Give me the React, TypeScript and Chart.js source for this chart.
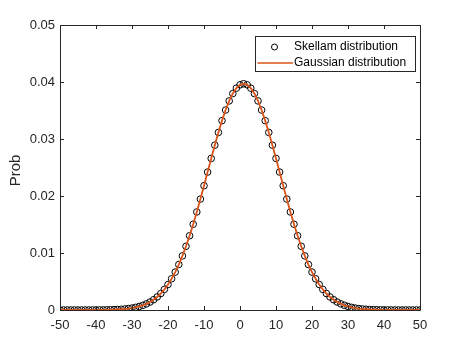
import React, { useEffect, useRef } from "react";
import { Chart, registerables } from "chart.js";

Chart.register(...registerables);

const xValues: number[] = Array.from({ length: 101 }, (_, i) => i - 50);

const skellamProb: number[] = [
  0.0000001, 0.0000002, 0.0000003, 0.0000004, 0.0000007, 0.0000011, 0.0000017, 0.0000026, 0.0000041, 0.0000063,
  0.0000095, 0.000014, 0.000021, 0.000031, 0.000045, 0.000065, 0.00009, 0.00013, 0.00018, 0.00025,
  0.00034, 0.00046, 0.00062, 0.00082, 0.00108, 0.0014, 0.0018, 0.00229, 0.00289, 0.00362,
  0.00447, 0.00548, 0.00665, 0.00798, 0.00949, 0.01118, 0.01303, 0.01505, 0.0172, 0.01946,
  0.02181, 0.0242, 0.02659, 0.02892, 0.03115, 0.03322, 0.03508, 0.03668, 0.03797, 0.03892,
  0.0395, 0.0397, 0.0395, 0.03892, 0.03797, 0.03668, 0.03508, 0.03322, 0.03115, 0.02892,
  0.02659, 0.0242, 0.02181, 0.01946, 0.0172, 0.01505, 0.01303, 0.01118, 0.00949, 0.00798,
  0.00665, 0.00548, 0.00447, 0.00362, 0.00289, 0.00229, 0.0018, 0.0014, 0.00108, 0.00082,
  0.00062, 0.00046, 0.00034, 0.00025, 0.00018, 0.00013, 0.00009, 0.000065, 0.000045, 0.000031,
  0.000021, 0.000014, 0.0000095, 0.0000063, 0.0000041, 0.0000026, 0.0000017, 0.0000011, 0.0000007, 0.0000004,
  0.0000003,
];

const gaussianProb: number[] = [
  0.0000001, 0.0000002, 0.0000003, 0.0000004, 0.0000007, 0.0000011, 0.0000017, 0.0000026, 0.0000041, 0.0000063,
  0.0000095, 0.000014, 0.000021, 0.000031, 0.000045, 0.000065, 0.00009, 0.00013, 0.00018, 0.00025,
  0.00034, 0.00046, 0.00062, 0.00082, 0.00108, 0.0014, 0.0018, 0.00229, 0.00289, 0.00362,
  0.00447, 0.00548, 0.00665, 0.00798, 0.00949, 0.01118, 0.01303, 0.01505, 0.0172, 0.01946,
  0.02181, 0.0242, 0.02659, 0.02892, 0.03115, 0.03322, 0.03508, 0.03668, 0.03797, 0.03892,
  0.0395, 0.0397, 0.0395, 0.03892, 0.03797, 0.03668, 0.03508, 0.03322, 0.03115, 0.02892,
  0.02659, 0.0242, 0.02181, 0.01946, 0.0172, 0.01505, 0.01303, 0.01118, 0.00949, 0.00798,
  0.00665, 0.00548, 0.00447, 0.00362, 0.00289, 0.00229, 0.0018, 0.0014, 0.00108, 0.00082,
  0.00062, 0.00046, 0.00034, 0.00025, 0.00018, 0.00013, 0.00009, 0.000065, 0.000045, 0.000031,
  0.000021, 0.000014, 0.0000095, 0.0000063, 0.0000041, 0.0000026, 0.0000017, 0.0000011, 0.0000007, 0.0000004,
  0.0000003,
];

const xTicks: number[] = [-50, -40, -30, -20, -10, 0, 10, 20, 30, 40, 50];
const yTicks: number[] = [0, 0.01, 0.02, 0.03, 0.04, 0.05];
const yTickLabels: string[] = ["0", "0.01", "0.02", "0.03", "0.04", "0.05"];
const seriesNames: string[] = ["Skellam distribution", "Gaussian distribution"];
const yTitle = "Prob";

const AXIS_COLOR = "#262626";
const LINE_COLOR = "#D95319";
const FONT = "'Liberation Sans', Arial, Helvetica, sans-serif";

const boxPlugin = {
  id: "matlabBox",
  afterDatasetsDraw(chart: any) {
    const { ctx, chartArea } = chart;
    const { left, right, top, bottom } = chartArea;
    const xs = chart.scales.x;
    const ys = chart.scales.y;
    ctx.save();
    ctx.strokeStyle = AXIS_COLOR;
    ctx.lineWidth = 1;
    ctx.beginPath();
    ctx.rect(Math.round(left) + 0.5, Math.round(top) + 0.5, Math.round(right - left), Math.round(bottom - top));
    ctx.stroke();
    const tl = 4;
    ctx.beginPath();
    xTicks.forEach((v) => {
      const px = Math.round(xs.getPixelForValue(v)) + 0.5;
      ctx.moveTo(px, bottom);
      ctx.lineTo(px, bottom - tl);
      ctx.moveTo(px, top);
      ctx.lineTo(px, top + tl);
    });
    yTicks.forEach((v) => {
      const py = Math.round(ys.getPixelForValue(v)) + 0.5;
      ctx.moveTo(left, py);
      ctx.lineTo(left + tl, py);
      ctx.moveTo(right, py);
      ctx.lineTo(right - tl, py);
    });
    ctx.stroke();

    // y title
    ctx.fillStyle = AXIS_COLOR;
    ctx.font = `15px ${FONT}`;
    ctx.textAlign = "center";
    ctx.textBaseline = "middle";
    ctx.translate(16, (top + bottom) / 2 + 3);
    ctx.rotate(-Math.PI / 2);
    ctx.fillText(yTitle, 0, 0);
    ctx.restore();

    // legend
    ctx.save();
    const lx0 = 255.5;
    const ly0 = 36.5;
    const lw = 160;
    const lh = 35;
    ctx.fillStyle = "#ffffff";
    ctx.fillRect(lx0, ly0, lw, lh);
    ctx.strokeStyle = AXIS_COLOR;
    ctx.lineWidth = 1;
    ctx.strokeRect(lx0, ly0, lw, lh);
    ctx.font = `12px ${FONT}`;
    ctx.fillStyle = "#000000";
    ctx.textAlign = "left";
    ctx.textBaseline = "middle";
    const row1 = 47;
    const row2 = 63;
    ctx.beginPath();
    ctx.arc(274.5, row1, 3, 0, Math.PI * 2);
    ctx.strokeStyle = "#000000";
    ctx.stroke();
    ctx.fillText(seriesNames[0], 294, row1);
    ctx.beginPath();
    ctx.moveTo(257.5, row2);
    ctx.lineTo(293, row2);
    ctx.strokeStyle = LINE_COLOR;
    ctx.lineWidth = 1.5;
    ctx.stroke();
    ctx.fillText(seriesNames[1], 294, row2);
    ctx.restore();
  },
};

export default function App() {
  const canvasRef = useRef<HTMLCanvasElement | null>(null);

  useEffect(() => {
    document.body.style.margin = "0";
    const canvas = canvasRef.current;
    if (!canvas) return;
    const chart = new Chart(canvas, {
      type: "scatter",
      data: {
        datasets: [
          {
            type: "line",
            label: seriesNames[1],
            data: xValues.map((x, i) => ({ x, y: gaussianProb[i] })),
            borderColor: LINE_COLOR,
            borderWidth: 1.8,
            pointRadius: 0,
            fill: false,
            tension: 0,
            order: 0,
          },
          {
            type: "scatter",
            label: seriesNames[0],
            data: xValues.map((x, i) => ({ x, y: skellamProb[i] })),
            borderColor: "#000000",
            backgroundColor: "rgba(0,0,0,0)",
            borderWidth: 1,
            pointRadius: 3.3,
            pointStyle: "circle",
            order: 1,
          },
        ],
      },
      options: {
        responsive: false,
        animation: false,
        events: [],
        layout: { padding: { top: 25, right: 43, left: 0, bottom: 0 } },
        plugins: {
          legend: { display: false },
          tooltip: { enabled: false },
        },
        scales: {
          x: {
            type: "linear",
            min: -50,
            max: 50,
            afterBuildTicks: (scale: any) => {
              scale.ticks = xTicks.map((v) => ({ value: v }));
            },
            afterFit: (scale: any) => {
              scale.height = 38;
            },
            grid: { display: false, drawTicks: false },
            border: { display: false },
            ticks: {
              color: AXIS_COLOR,
              font: { family: FONT, size: 13 },
              padding: 8,
              maxRotation: 0,
              autoSkip: false,
              callback: (v: any) => String(v),
            },
          },
          y: {
            type: "linear",
            min: 0,
            max: 0.05,
            afterBuildTicks: (scale: any) => {
              scale.ticks = yTicks.map((v) => ({ value: v }));
            },
            afterFit: (scale: any) => {
              scale.width = 60;
            },
            grid: { display: false, drawTicks: false },
            border: { display: false },
            ticks: {
              color: AXIS_COLOR,
              font: { family: FONT, size: 13 },
              padding: 5,
              autoSkip: false,
              callback: (v: any) => {
                const idx = yTicks.findIndex((t) => Math.abs(t - Number(v)) < 1e-9);
                return idx >= 0 ? yTickLabels[idx] : "";
              },
            },
          },
        },
      },
      plugins: [boxPlugin],
    } as any);
    return () => chart.destroy();
  }, []);

  return (
    <div style={{ width: 463, height: 348, background: "#ffffff" }}>
      <canvas ref={canvasRef} width={463} height={348} style={{ display: "block" }} />
    </div>
  );
}
